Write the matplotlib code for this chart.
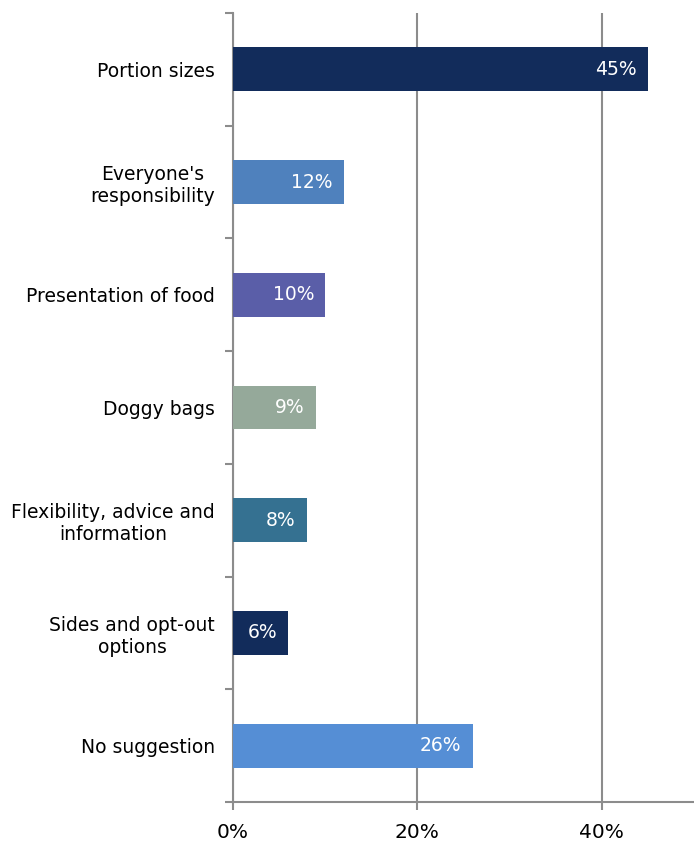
import numpy as np
import matplotlib.pyplot as plt
from matplotlib.ticker import FixedLocator, PercentFormatter

# Suggestions, top to bottom
categories = ["Portion sizes", "Everyone's\nresponsibility", "Presentation of food",
              "Doggy bags", "Flexibility, advice and\ninformation",
              "Sides and opt-out\noptions", "No suggestion"]
values = [45, 12, 10, 9, 8, 6, 26]
colors = ["#122C5B", "#4F81BD", "#5A5EA8", "#95A99A", "#357191", "#122C5B", "#558ED5"]
xticks = [0, 20, 40]

plt.rcParams['font.family'] = ['DejaVu Sans']
grey = "#8C8C8C"

fig = plt.figure(figsize=(6.94, 8.42), dpi=100)
ax = fig.add_axes([233 / 694, 1 - 802 / 842, 1 - 233 / 694, (802 - 13) / 842])

y = np.arange(len(categories))
bars = ax.barh(y, values, height=0.39, color=colors, zorder=3)

for rect, v in zip(bars, values):
    ax.annotate(f"{v}%", (rect.get_width(), rect.get_y() + rect.get_height() / 2),
                xytext=(-8, 0), textcoords="offset points", ha="right", va="center",
                color="white", fontsize=13.5, zorder=4)

ax.set_xlim(0, 50)
ax.set_ylim(len(categories) - 0.5, -0.5)

ax.set_yticks(y)
ax.set_yticklabels(categories, fontsize=13.5, ha="right", multialignment="center")
ax.yaxis.set_minor_locator(FixedLocator(np.arange(-0.5, len(categories), 1)))
ax.tick_params(axis="y", which="major", length=0, pad=13)
ax.tick_params(axis="y", which="minor", length=6, width=1.5, color=grey)

ax.set_xticks(xticks)
ax.xaxis.set_major_formatter(PercentFormatter(decimals=0))
ax.tick_params(axis="x", length=6, width=1.5, color=grey, labelsize=14.5, pad=9)

ax.grid(axis="x", color=grey, linewidth=1.5, zorder=0)
for s in ("top", "right"):
    ax.spines[s].set_visible(False)
for s in ("left", "bottom"):
    ax.spines[s].set_color(grey)
    ax.spines[s].set_linewidth(1.5)

fig.savefig("out.png", dpi=100)
